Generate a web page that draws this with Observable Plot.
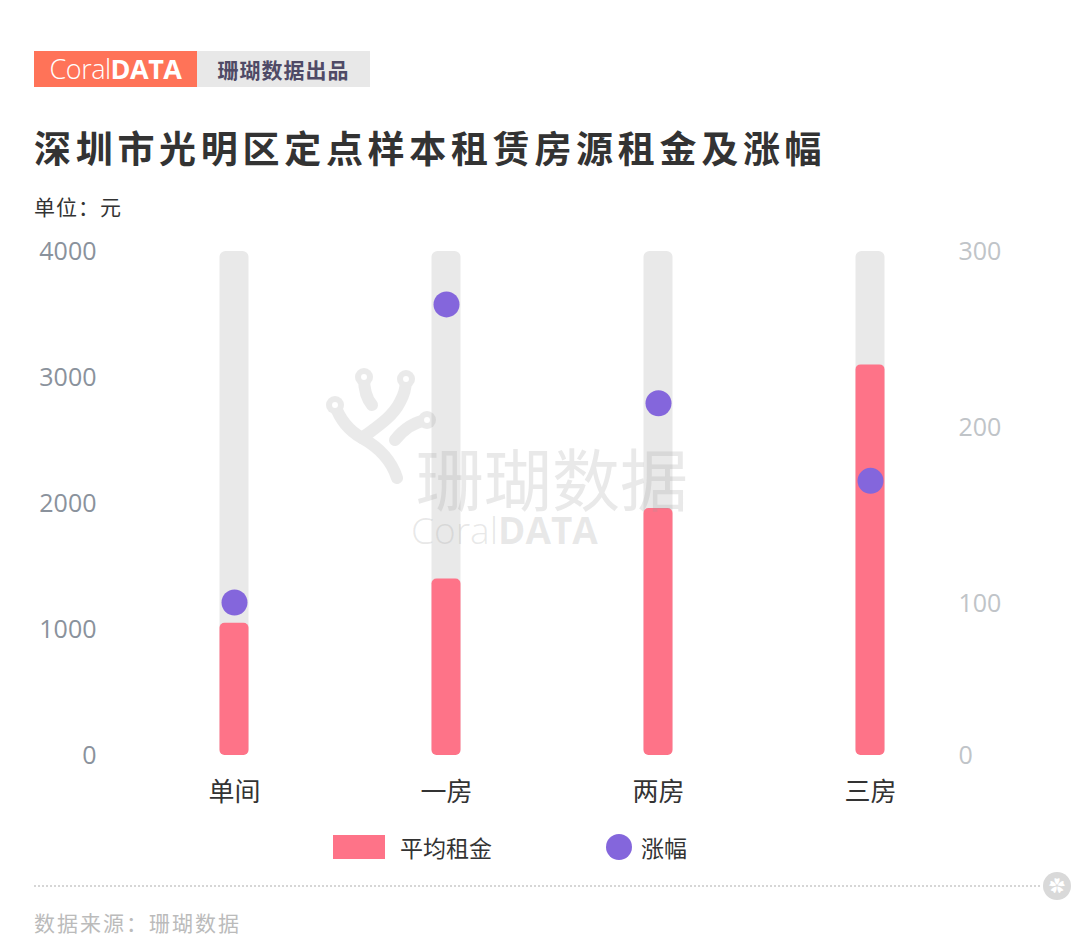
<!DOCTYPE html>
<html><head><meta charset="utf-8">
<script src="https://cdn.jsdelivr.net/npm/d3@7"></script>
<script src="https://cdn.jsdelivr.net/npm/@observablehq/plot@0.6"></script>
<style>
body{margin:0;background:#fff;font-family:"Open Sans","Noto Sans CJK SC",sans-serif;}
#wrap{position:relative;width:1080px;height:946px;overflow:hidden;background:#fff;}
.abs{position:absolute;white-space:nowrap;}
</style></head>
<body><div id="wrap">
<div class="abs" style="left:34px;top:51px;width:163px;height:36px;background:#ff7358;color:#fff;font-family:'Open Sans',sans-serif;font-size:27px;line-height:36px;text-align:center;letter-spacing:-0.5px"><span style="font-weight:300">Coral</span><span style="font-weight:700">DATA</span></div>
<div class="abs" style="left:197px;top:51px;width:173px;height:36px;background:#e8e8e8;color:#4f4a66;font-family:'Noto Sans CJK SC';font-weight:700;font-size:21px;line-height:36px;text-align:center;letter-spacing:1px">珊瑚数据出品</div>
<div class="abs" style="left:34px;top:127px;font-family:'Noto Sans CJK SC';font-weight:700;font-size:37px;line-height:40px;color:#333;letter-spacing:4.7px">深圳市光明区定点样本租赁房源租金及涨幅</div>
<div class="abs" style="left:34px;top:193px;font-family:'Noto Sans CJK SC';font-size:21px;line-height:26px;color:#333;letter-spacing:1px">单位：元</div>
<div id="chart" class="abs" style="left:0;top:230px;"></div>
<svg class="abs" style="left:0;top:0;pointer-events:none" width="1080" height="946">
  <g opacity="0.2">
    <g fill="none" stroke="#999" stroke-linecap="round" stroke-linejoin="round" stroke-width="12">
      <path d="M397 478 C392 462 380 448 362 438 C348 430 340 420 335 405"/>
      <path d="M362 438 C375 428 392 418 400 402 C405 393 406 386 406 380"/>
      <path d="M372 405 C366 398 364 390 364 378"/>
      <path d="M395 440 C403 430 413 422 427 420"/>
    </g>
    <g fill="#999">
      <circle cx="335" cy="405" r="9"/><circle cx="364" cy="377" r="9"/><circle cx="406" cy="379" r="9"/><circle cx="427" cy="420" r="9"/>
    </g>
    <g fill="#fff">
      <circle cx="335" cy="405" r="3"/><circle cx="364" cy="377" r="3"/><circle cx="406" cy="379" r="3"/><circle cx="427" cy="420" r="3"/>
    </g>
  </g>
</svg>
<div class="abs" style="left:416px;top:447px;height:60px;line-height:60px;overflow:visible;font-family:'Noto Sans CJK SC';font-size:68px;color:rgba(153,153,153,0.22);pointer-events:none">珊瑚数据</div>
<div class="abs" style="left:411px;top:514px;height:32px;line-height:32px;overflow:visible;font-family:'Open Sans';font-size:37px;color:rgba(153,153,153,0.22);pointer-events:none"><span style="font-weight:300">Coral</span><span style="font-weight:700">DATA</span></div>
<div class="abs" style="left:333px;top:835px;width:52px;height:24px;background:#fe7388"></div>
<div class="abs" style="left:400px;top:833px;font-family:'Noto Sans CJK SC';font-size:23px;line-height:28px;color:#333">平均租金</div>
<div class="abs" style="left:606px;top:834px;width:26px;height:26px;border-radius:50%;background:#8466dc"></div>
<div class="abs" style="left:641px;top:833px;font-family:'Noto Sans CJK SC';font-size:23px;line-height:28px;color:#333">涨幅</div>
<div class="abs" style="left:34px;top:885px;width:1006px;border-top:2px dotted #d6d6d6"></div>
<div class="abs" style="left:1043px;top:872px;width:28px;height:28px;border-radius:50%;background:#d9d9d9;color:#fff;font-size:16px;line-height:28px;text-align:center">✿</div>
<div class="abs" style="left:34px;top:909px;font-family:'Noto Sans CJK SC';font-size:21px;line-height:26px;color:#bbb;letter-spacing:2px">数据来源：珊瑚数据</div>
</div>
<script>
const categories = ["单间", "一房", "两房", "三房"];
const rent = [1050, 1400, 1960, 3100];
const growth = [101, 270, 214, 170];
const leftTicks = [0, 1000, 2000, 3000, 4000];
const rightTicks = [0, 100, 200, 300];
const yMax = 4000;
const rightScale = d3.scaleLinear().domain([0, 300]).range([-200, 4000]);

const data = categories.map((c, i) => ({cat: c, rent: rent[i], growth: growth[i]}));

const chart = Plot.plot({
  width: 1080,
  height: 580,
  marginTop: 21,
  marginBottom: 55,
  marginLeft: 127,
  marginRight: 103,
  style: {fontFamily: "'Open Sans','Noto Sans CJK SC',sans-serif", background: "transparent"},
  x: {domain: categories, padding: 0, label: null},
  y: {domain: [0, yMax], label: null},
  marks: [
    Plot.barY(data, {x: "cat", y: () => yMax, fill: "#e9e9e9", insetLeft: 91.5, insetRight: 91.5, rx: 6}),
    Plot.barY(data, {x: "cat", y: "rent", fill: "#fe7388", insetLeft: 91.5, insetRight: 91.5, rx: 5}),
    Plot.dot(data, {x: "cat", y: d => rightScale(d.growth), r: 13, fill: "#8466dc"}),
    Plot.axisY(leftTicks, {anchor: "left", tickSize: 0, tickPadding: 31, fontSize: 25, color: "#8a929c", label: null, tickFormat: d => String(d)}),
    Plot.text(rightTicks, {y: d => Math.max(0, rightScale(d)), text: d => String(d), frameAnchor: "right", textAnchor: "start", dx: -19, fontSize: 25, fill: "#c0c4c8"}),
    Plot.axisX({tickSize: 0, tickPadding: 27, fontSize: 26, color: "#333", fontFamily: "Noto Sans CJK SC", label: null})
  ]
});
document.getElementById("chart").appendChild(chart);
</script>
</body></html>
